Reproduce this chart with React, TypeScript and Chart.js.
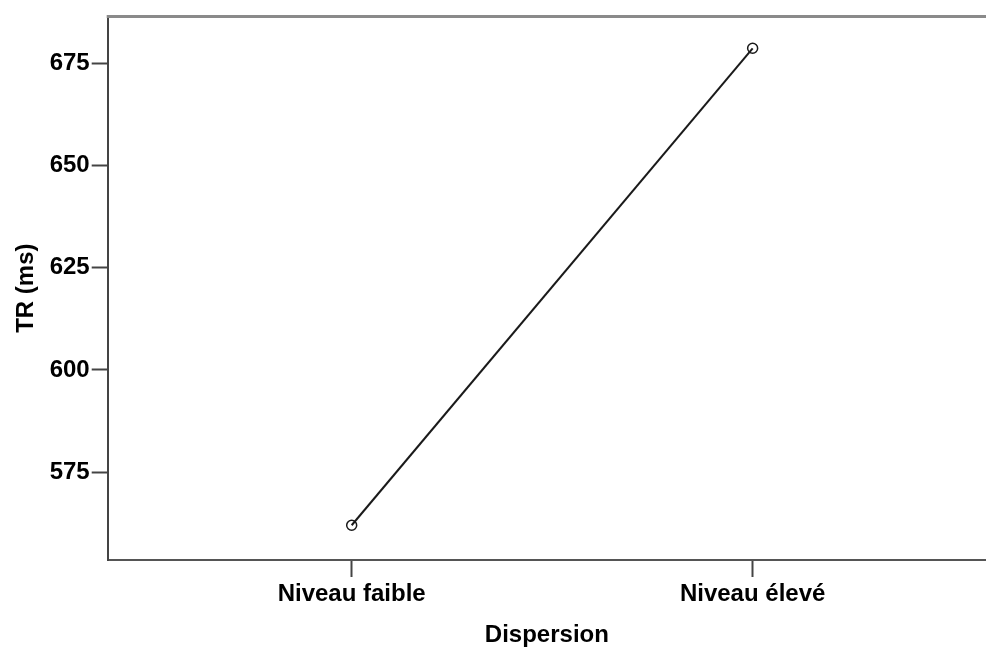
import React, { useEffect, useRef } from "react";
import { Chart, registerables } from "chart.js";

Chart.register(...registerables);

const categories: string[] = ["Niveau faible", "Niveau élevé"];
const meanRT: number[] = [562, 678.7];
const yTickValues: number[] = [575, 600, 625, 650, 675];
const xTitle = "Dispersion";
const yTitle = "TR (ms)";

const FONT = "'Liberation Sans', Arial, sans-serif";

const topBorder = {
  id: "topBorder",
  afterDraw(chart: any) {
    const { ctx, chartArea } = chart;
    ctx.save();
    ctx.strokeStyle = "#8a8a8a";
    ctx.lineWidth = 3;
    ctx.beginPath();
    ctx.moveTo(chartArea.left - 1, chartArea.top);
    ctx.lineTo(chartArea.right, chartArea.top);
    ctx.stroke();
    ctx.restore();
  },
};

export default function App() {
  const ref = useRef<HTMLCanvasElement | null>(null);
  useEffect(() => {
    if (!ref.current) return;
    const chart = new Chart(ref.current, {
      type: "line",
      data: {
        datasets: [
          {
            data: meanRT.map((v, i) => ({ x: i, y: v })),
            borderColor: "#1a1a1a",
            borderWidth: 2,
            pointRadius: 5,
            pointBorderWidth: 1.5,
            pointBorderColor: "#1a1a1a",
            pointBackgroundColor: "rgba(255,255,255,0)",
            fill: false,
            tension: 0,
          },
        ],
      },
      options: {
        animation: false,
        responsive: false,
        layout: { autoPadding: false, padding: { top: 14.5, right: 0, left: 0, bottom: 0 } },
        plugins: { legend: { display: false }, tooltip: { enabled: false } },
        scales: {
          x: {
            type: "linear",
            min: -0.6085,
            max: 1.582,
            afterBuildTicks: (s: any) => {
              s.ticks = categories.map((_, i) => ({ value: i }));
            },
            afterFit: (s: any) => {
              s.height = 88;
            },
            ticks: {
              callback: (v: any) => categories[v as number] ?? "",
              color: "#000",
              font: { family: FONT, size: 24, weight: "bold" },
              padding: 3,
              maxRotation: 0,
            },
            grid: {
              drawOnChartArea: false,
              tickLength: 17,
              tickColor: "#444",
              tickWidth: 2,
            },
            border: { color: "#555", width: 2 },
            title: {
              display: true,
              text: xTitle,
              color: "#000",
              font: { family: FONT, size: 24, weight: "bold" },
              padding: { top: 0, bottom: -2 },
            },
          },
          y: {
            type: "linear",
            min: 553.5,
            max: 686.5,
            afterBuildTicks: (s: any) => {
              s.ticks = yTickValues.map((v) => ({ value: v }));
            },
            afterFit: (s: any) => {
              s.width = 107.7;
            },
            ticks: {
              color: "#000",
              font: { family: FONT, size: 24, weight: "bold" },
              padding: 2,
            },
            grid: {
              drawOnChartArea: false,
              tickLength: 16,
              tickColor: "#444",
              tickWidth: 2,
            },
            border: { color: "#444", width: 2 },
            title: {
              display: true,
              text: yTitle,
              color: "#000",
              font: { family: FONT, size: 24, weight: "bold" },
              padding: { top: 12, bottom: 0 },
            },
          },
        },
      },
      plugins: [topBorder],
    });
    return () => chart.destroy();
  }, []);
  return (
    <div style={{ position: "fixed", left: 0, top: 0, width: 986, height: 648, background: "#fff" }}>
      <canvas ref={ref} width={986} height={648} style={{ display: "block" }} />
    </div>
  );
}
